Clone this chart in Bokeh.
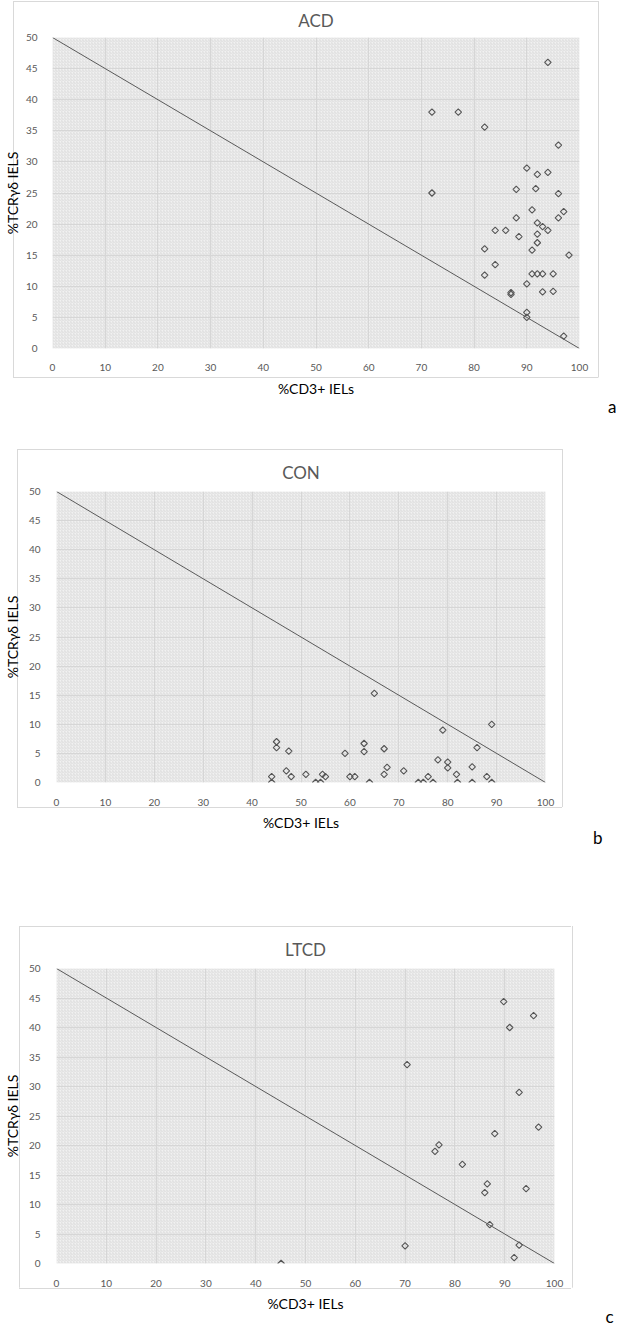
from math import pi
from bokeh.plotting import figure
from bokeh.models import Range1d, FixedTicker, Title, BoxAnnotation, Slope
from bokeh.layouts import column
from bokeh.embed import file_html
from bokeh.resources import INLINE

# ---------------- data ----------------
x_ticks = [0, 10, 20, 30, 40, 50, 60, 70, 80, 90, 100]
y_ticks = [0, 5, 10, 15, 20, 25, 30, 35, 40, 45, 50]
x_title = "%CD3+ IELs"
y_title = "%TCRγδ IELS"
diag_intercept = 50
diag_gradient = -0.5

acd_cd3 = [72, 77, 82, 94, 96, 90, 92, 94, 72, 88, 91.7, 96, 91, 97, 88, 96, 92, 93, 94, 84, 86,
           88.5, 92, 92, 82, 91, 98, 84, 82, 91, 92, 93, 95, 90, 87, 87, 93, 95, 90, 90, 97]
acd_tcr = [38, 38, 35.6, 46, 32.7, 29, 28, 28.3, 25, 25.6, 25.7, 24.9, 22.3, 22, 21, 21, 20.2, 19.6, 19, 19, 19,
           18, 18.4, 17, 16, 15.8, 15, 13.5, 11.8, 12, 12, 12, 12, 10.4, 9, 8.7, 9.1, 9.2, 5.8, 5, 2]

con_cd3 = [44, 44, 45, 45, 47.5, 47, 48, 51, 53, 54, 54.4, 55, 59, 60, 61, 62.9, 62.9, 64, 65, 67, 67, 67.6,
           71, 74, 75, 76, 77, 78, 79, 80, 80, 81.8, 82, 85, 85, 86, 88, 89, 89]
con_tcr = [1.0, 0, 7.0, 6.0, 5.4, 2.0, 1.0, 1.4, 0, 0, 1.4, 1.0, 5.0, 1.0, 1.0, 6.7, 5.3, 0, 15.3, 5.8, 1.4, 2.6,
           2.0, 0, 0, 1.0, 0, 3.9, 9.0, 3.5, 2.5, 1.4, 0, 2.7, 0, 6.0, 1.0, 10.0, 0]

ltcd_cd3 = [89.8, 95.8, 91, 70.4, 92.9, 96.8, 88, 76.8, 76, 81.5, 86.5, 86, 94.3, 87, 70, 92.9, 91.9, 45.1]
ltcd_tcr = [44.4, 42, 40, 33.7, 29, 23.1, 22, 20.1, 19, 16.8, 13.5, 12, 12.7, 6.6, 3, 3.1, 1.0, 0]

FONT = "Lato"
GREY = "#595959"
BORDER = "#d9d9d9"


def border_styles(l, t, r, b):
    w, h = r - l, b - t
    g = f"linear-gradient({BORDER},{BORDER})"
    return {
        "background-image": ",".join([g] * 4),
        "background-size": f"{w}px 1px, {w}px 1px, 1px {h}px, 1px {h}px",
        "background-position": f"{l}px {t}px, {l}px {b}px, {l}px {t}px, {r}px {t}px",
        "background-repeat": "no-repeat",
    }


def panel(name, letter, xs, ys, height, ml, mr, mt, mb, border,
          title_standoff, title_offset, letter_offset, letter_standoff,
          tick_standoff, ylab_standoff, xlab_standoff):
    p = figure(width=616, height=height, x_range=Range1d(0, 100), y_range=Range1d(0, 50),
               output_backend="svg", toolbar_location=None, frame_align=False,
               min_border_left=ml, min_border_right=mr, min_border_top=mt, min_border_bottom=mb,
               styles=border_styles(*border))
    p.background_fill_color = "#f1f1f1"
    p.border_fill_alpha = 0
    p.outline_line_color = None

    tex = BoxAnnotation(fill_alpha=0, line_alpha=0, hatch_pattern="/", hatch_color="#d2d2d2",
                        hatch_scale=3, hatch_weight=0.6, level="image")
    p.add_layout(tex)

    for ax, ticks in ((p.xaxis[0], x_ticks), (p.yaxis[0], y_ticks)):
        ax.ticker = FixedTicker(ticks=ticks)
        ax.axis_line_color = None
        ax.major_tick_line_color = None
        ax.minor_tick_line_color = None
        ax.major_label_text_font = FONT
        ax.major_label_text_font_size = "10px"
        ax.major_label_text_color = GREY
        ax.major_label_standoff = tick_standoff
        ax.axis_label_text_font = FONT
        ax.axis_label_text_font_size = "14px"
        ax.axis_label_text_font_style = "normal"
        ax.axis_label_text_color = "black"
    p.xaxis.axis_label = x_title
    p.yaxis.axis_label = y_title
    p.xaxis.axis_label_standoff = xlab_standoff
    p.yaxis.axis_label_standoff = ylab_standoff

    p.xgrid.ticker = FixedTicker(ticks=x_ticks)
    p.ygrid.ticker = FixedTicker(ticks=y_ticks)
    for g in (p.xgrid[0], p.ygrid[0]):
        g.grid_line_color = "#d6d6d6"
        g.grid_line_width = 1

    p.add_layout(Slope(gradient=diag_gradient, y_intercept=diag_intercept,
                       line_color="#5a5a5a", line_width=1))

    p.scatter(xs, ys, marker="square", angle=pi / 4, size=4.6, fill_color=None,
              line_color="#555555", line_width=1.1)

    p.title = Title(text=name, align="center", text_font=FONT, text_font_size="17px",
                    text_font_style="normal", text_color=GREY, standoff=title_standoff,
                    offset=title_offset)
    p.add_layout(Title(text=letter, align="right", vertical_align="top", text_font=FONT,
                       text_font_size="17px", text_font_style="normal", text_color="black",
                       offset=letter_offset, standoff=letter_standoff), "below")
    return p


pA = panel("ACD", "a", acd_cd3, acd_tcr, 440, 41, 37, 37, 92,
           (12.7, 0.5, 598, 377), 13, -3, -37, -7, 9, 2, 6)
pB = panel("CON", "b", con_cd3, con_tcr, 440, 44, 71, 51, 98,
           (17, 8.7, 562, 367), 17, -4, -57, -13, 10, 5, 5)
pC = panel("LTCD", "c", ltcd_cd3, ltcd_tcr, 447, 46, 62, 88, 64,
           (19.3, 46.3, 571.7, 408), 17, -4, -59, -17, 10, 5, 5)

layout = column(pA, pB, pC, spacing=0)
open("out.html", "w").write(file_html(layout, INLINE))
